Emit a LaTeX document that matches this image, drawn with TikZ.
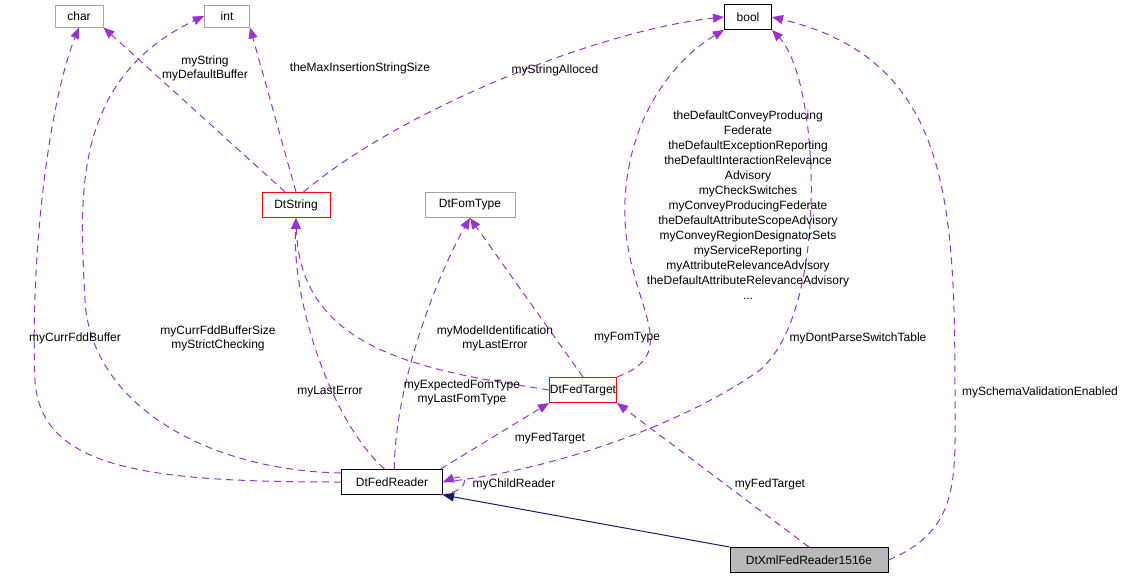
\documentclass[tikz,border=0pt]{standalone}
\usepackage{fontspec}
\setmainfont{Liberation Sans}
\usetikzlibrary{arrows.meta}
\definecolor{pur}{HTML}{9A32CD}
\definecolor{nav}{HTML}{191970}
\begin{document}
\begin{tikzpicture}[x=1pt,y=-1pt,line width=1pt,
  box/.style={draw,rectangle,inner sep=0pt,font=\fontsize{12}{14}\selectfont,fill=white},
  use/.style={draw=pur,dash pattern=on 7pt off 5pt,-{Triangle[length=11pt,width=9pt,fill=pur]}},
  lab/.style={font=\fontsize{12}{14}\selectfont,align=center,inner sep=0pt}]
\useasboundingbox (0,0) rectangle (1133,581);
\node[box,draw=gray!70,minimum width=48,minimum height=22] (char) at (79,16) {char};
\node[box,draw=gray!70,minimum width=45,minimum height=22] (int) at (227,16) {int};
\node[box,minimum width=47,minimum height=25] (bool) at (748,17) {bool};
\node[box,draw=red,minimum width=68,minimum height=25] (str) at (296,205) {DtString};
\node[box,draw=gray!70,minimum width=90,minimum height=25] (fom) at (470,205) {DtFomType};
\node[box,draw=red,minimum width=67,minimum height=25] (tgt) at (583,390) {DtFedTarget};
\node[box,minimum width=101,minimum height=25] (rdr) at (392,482) {DtFedReader};
\node[box,fill=gray!55,minimum width=158,minimum height=25] (xml) at (809,560) {DtXmlFedReader1516e};

\draw[use] (rdr.west) .. controls (150,482) and (40,470) .. (35,380) .. controls (30,250) and (50,100) .. (char.south);
\draw[use] (rdr.170) .. controls (200,470) and (90,400) .. (85,300) .. controls (80,200) and (70,80) .. (int.west);
\draw[use] (rdr.120) .. controls (330,420) and (292,300) .. (str.south);
\draw[use] (rdr.80) .. controls (395,380) and (440,270) .. (fom.south);
\draw[use] (rdr.15) -- (tgt.south west);
\draw[use] (rdr.-15) .. controls (470,492) and (470,472) .. (rdr.east);
\draw[use] (rdr.east) .. controls (560,470) and (690,420) .. (760,370) .. controls (830,310) and (820,80) .. (bool.south east);
\draw[use] (str.130) -- (char.south east);
\draw[use] (str.north) -- (int.south east);
\draw[use] (str.60) .. controls (400,110) and (600,30) .. (bool.west);
\draw[use] (tgt.west) .. controls (420,370) and (300,350) .. (str.south);
\draw[use] (tgt.north) -- (fom.south);
\draw[use] (tgt.north east) .. controls (690,350) and (620,300) .. (625,200) .. controls (630,100) and (690,50) .. (bool.south west);
\draw[use] (xml.north) -- (tgt.south east);
\draw[use] (xml.east) .. controls (960,530) and (955,480) .. (955,400) .. controls (955,200) and (950,60) .. (bool.east);
\draw[nav,-{Triangle[length=11pt,width=9pt,fill=nav]}] (xml.north west) -- (rdr.south east);

\node[lab] at (75,338) {myCurrFddBuffer};
\node[lab] at (218,338) {myCurrFddBufferSize\\myStrictChecking};
\node[lab] at (330,392) {myLastError};
\node[lab] at (462,392) {myExpectedFomType\\myLastFomType};
\node[lab] at (550,438) {myFedTarget};
\node[lab] at (514,484) {myChildReader};
\node[lab] at (858,338) {myDontParseSwitchTable};
\node[lab] at (205,68) {myString\\myDefaultBuffer};
\node[lab] at (360,68) {theMaxInsertionStringSize};
\node[lab] at (555,70) {myStringAlloced};
\node[lab] at (495,338) {myModelIdentification\\myLastError};
\node[lab] at (627,338) {myFomType};
\node[lab] at (770,484) {myFedTarget};
\node[lab] at (1040,392) {mySchemaValidationEnabled};
\node[lab,font=\fontsize{12}{15}\selectfont] at (748,205) {theDefaultConveyProducing\\Federate\\theDefaultExceptionReporting\\theDefaultInteractionRelevance\\Advisory\\myCheckSwitches\\myConveyProducingFederate\\theDefaultAttributeScopeAdvisory\\myConveyRegionDesignatorSets\\myServiceReporting\\myAttributeRelevanceAdvisory\\theDefaultAttributeRelevanceAdvisory\\...};
\end{tikzpicture}
\end{document}
